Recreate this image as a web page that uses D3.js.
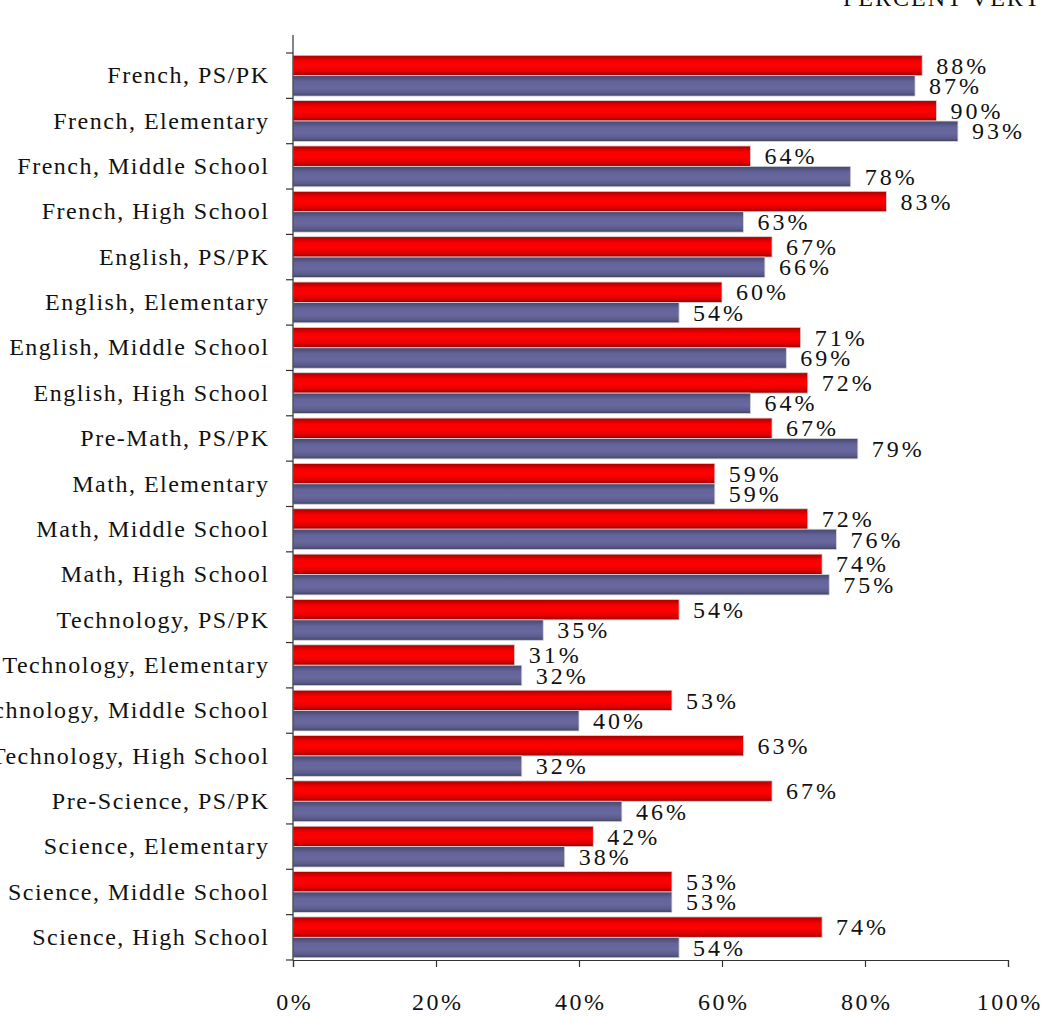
<!DOCTYPE html>
<html>
<head>
<meta charset="utf-8">
<script src="https://cdn.jsdelivr.net/npm/d3@7"></script>
<style>
  html, body { margin: 0; padding: 0; background: #fff; }
  svg { display: block; }
  text { font-family: "Liberation Serif", "Times New Roman", "DejaVu Serif", serif; fill: #111; }
</style>
</head>
<body>
<svg id="chart" width="1041" height="1016"></svg>
<script>
const categories = [
  "French, PS/PK", "French, Elementary", "French, Middle School", "French, High School",
  "English, PS/PK", "English, Elementary", "English, Middle School", "English, High School",
  "Pre-Math, PS/PK", "Math, Elementary", "Math, Middle School", "Math, High School",
  "Technology, PS/PK", "Technology, Elementary", "Technology, Middle School", "Technology, High School",
  "Pre-Science, PS/PK", "Science, Elementary", "Science, Middle School", "Science, High School"
];
const seriesNames = ["A", "B"];
const redValues  = [88, 90, 64, 83, 67, 60, 71, 72, 67, 59, 72, 74, 54, 31, 53, 63, 67, 42, 53, 74];
const blueValues = [87, 93, 78, 63, 66, 54, 69, 64, 79, 59, 76, 75, 35, 32, 40, 32, 46, 38, 53, 54];
const xTicks = [0, 20, 40, 60, 80, 100];
const titleText = "PERCENT VERY SATISFIED";

(function () {
const svg = d3.select("#chart");
const defs = svg.append("defs");
function grad(id, stops) {
  const g = defs.append("linearGradient").attr("id", id)
    .attr("x1", 0).attr("y1", 0).attr("x2", 0).attr("y2", 1);
  stops.forEach(s => g.append("stop").attr("offset", s[0]).attr("stop-color", s[1]));
}
grad("gRed", [[0, "#a80000"], [0.3, "#f80000"], [0.55, "#ff0000"], [0.8, "#e00000"], [1, "#9c0000"]]);
grad("gBlue", [[0, "#46466e"], [0.3, "#64649a"], [0.6, "#68689e"], [0.85, "#5a5a8a"], [1, "#40406a"]]);

const mLeft = 293, mRight = 1008, mTop = 53, mBottom = 960;
const x = d3.scaleLinear().domain([0, 100]).range([mLeft, mRight]);
const y = d3.scaleBand().domain(categories).range([mTop, mBottom]).paddingInner(0.1).paddingOuter(0.05);
const sub = d3.scaleBand().domain(seriesNames).range([0, y.bandwidth()]);

const rows = categories.map((c, i) => ({ c, vals: [redValues[i], blueValues[i]] }));

const g = svg.append("g");
rows.forEach(r => {
  r.vals.forEach((v, j) => {
    const yy = y(r.c) + sub(seriesNames[j]);
    g.append("rect")
      .attr("x", x(0)).attr("y", yy)
      .attr("width", x(v) - x(0)).attr("height", sub.bandwidth())
      .attr("fill", j === 0 ? "url(#gRed)" : "url(#gBlue)")
      .attr("stroke", "#d8d8d8").attr("stroke-width", 0.8);
    g.append("text")
      .attr("x", x(v) + 14).attr("y", yy + sub.bandwidth() / 2)
      .attr("dy", "0.34em")
      .attr("font-size", 24)
      .attr("letter-spacing", 3)
      .text(v + "%");
  });
});

const axisColor = "#333";
svg.append("line").attr("x1", mLeft).attr("x2", mLeft).attr("y1", 35).attr("y2", mBottom)
  .attr("stroke", axisColor).attr("stroke-width", 1.2);
for (let i = 0; i <= categories.length; i++) {
  const ty = mTop + i * y.step();
  svg.append("line").attr("x1", mLeft - 7).attr("x2", mLeft).attr("y1", ty).attr("y2", ty)
    .attr("stroke", axisColor).attr("stroke-width", 1.2);
}
categories.forEach(c => {
  svg.append("text").attr("x", 268 + 1.5).attr("y", y(c) + y.bandwidth() / 2)
    .attr("dy", "0.32em").attr("text-anchor", "end").attr("font-size", 24)
    .attr("letter-spacing", 1.5).text(c);
});

const xa = svg.append("g").attr("transform", `translate(0,${mBottom})`)
  .call(d3.axisBottom(x).tickValues(xTicks).tickSize(7).tickPadding(26).tickFormat(d => d + "%"));
xa.select(".domain").attr("stroke", axisColor).attr("stroke-width", 1.2);
xa.selectAll(".tick line").attr("stroke", axisColor).attr("stroke-width", 1.2);
xa.selectAll(".tick text").attr("font-size", 24)
  .attr("font-family", "Liberation Serif, Times New Roman, DejaVu Serif, serif")
  .attr("fill", "#111").attr("letter-spacing", 2.5).attr("dx", 1.25);

svg.append("text").attr("x", 843).attr("y", 6).attr("font-size", 24).attr("letter-spacing", 2).text(titleText);
})();
</script>
</body>
</html>
